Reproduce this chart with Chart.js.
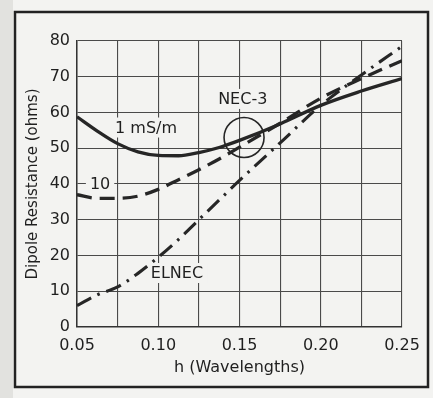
<!DOCTYPE html>
<html>
<head>
<meta charset="utf-8">
<script src="https://cdn.jsdelivr.net/npm/chart.js@4.4.1/dist/chart.umd.min.js"></script>
<style>
  html, body { margin: 0; padding: 0; background: #f3f3f1; }
  #wrap { width: 433px; height: 398px; }
</style>
</head>
<body>
<div id="wrap"><canvas id="c" width="433" height="398"></canvas></div>
<script>
// h in wavelengths, resistance in ohms
const H = [0.05, 0.0625, 0.075, 0.0875, 0.10, 0.1125, 0.125, 0.1375, 0.15, 0.175, 0.20, 0.225, 0.25];
const NEC_1MS = [58.8, 54.8, 51.3, 49.0, 48.0, 47.9, 48.8, 50.2, 52.2, 56.8, 62.0, 66.0, 69.5];
const NEC_10 = [37.0, 36.0, 36.0, 36.6, 38.5, 41.2, 44.0, 47.0, 50.3, 57.0, 64.0, 69.5, 74.5];
const ELNEC = [6.0, 9.0, 11.2, 15.0, 19.5, 24.5, 30.0, 35.5, 41.0, 51.5, 62.0, 70.5, 78.5];

// the circled NEC-3 point
const NEC3_MARK = [{ x: 0.1528, y: 53 }];

const X_MIN = 0.05, X_MAX = 0.25, X_STEP = 0.025;
const Y_MIN = 0, Y_MAX = 80, Y_STEP = 10;

const NOTES = [
  { text: '1 mS/m', x: 0.0925, y: 55.8 },
  { text: '10', x: 0.0642, y: 40 },
  { text: 'NEC-3', x: 0.152, y: 63.8 },
  { text: 'ELNEC', x: 0.1115, y: 15.1 },
];

const INK = '#262626';
const TEXT = '#1f1f1f';
const PAPER = '#f3f3f1';
const FONT = '"DejaVu Sans", sans-serif';

const pts = (ys) => H.map((h, i) => ({ x: h, y: ys[i] }));

const paper = {
  id: 'paper',
  beforeDraw(chart) {
    const { ctx, width, height } = chart;
    ctx.save();
    ctx.fillStyle = PAPER;
    ctx.fillRect(0, 0, width, height);
    ctx.fillStyle = '#e2e2df';
    ctx.fillRect(0, 0, 13, height);
    ctx.strokeStyle = '#222';
    ctx.lineWidth = 2.5;
    ctx.strokeRect(15, 12, 413, 375);
    ctx.restore();
  },
};

// curve labels sit on paper-coloured boxes that break the grid lines
const notes = {
  id: 'notes',
  beforeDatasetsDraw(chart) {
    const { ctx, scales: { x, y } } = chart;
    ctx.save();
    ctx.font = '16px ' + FONT;
    ctx.textAlign = 'center';
    ctx.textBaseline = 'middle';
    NOTES.forEach((n) => {
      const px = x.getPixelForValue(n.x);
      const py = y.getPixelForValue(n.y);
      const w = ctx.measureText(n.text).width;
      ctx.fillStyle = PAPER;
      ctx.fillRect(px - w / 2 - 4, py - 10, w + 8, 20);
      ctx.fillStyle = TEXT;
      ctx.fillText(n.text, px, py + 1);
    });
    ctx.restore();
  },
};

new Chart(document.getElementById('c'), {
  type: 'scatter',
  data: {
    datasets: [
      {
        label: '1 mS/m',
        data: pts(NEC_1MS),
        showLine: true,
        borderColor: INK,
        borderWidth: 3.3,
        pointRadius: 0,
        cubicInterpolationMode: 'monotone',
      },
      {
        label: '10',
        data: pts(NEC_10),
        showLine: true,
        borderColor: INK,
        borderWidth: 3.3,
        borderDash: [15, 8],
        pointRadius: 0,
        cubicInterpolationMode: 'monotone',
      },
      {
        label: 'ELNEC',
        data: pts(ELNEC),
        showLine: true,
        borderColor: INK,
        borderWidth: 3.1,
        borderDash: [16, 7, 2.5, 7],
        pointRadius: 0,
        cubicInterpolationMode: 'monotone',
      },
      {
        label: 'NEC-3',
        data: NEC3_MARK,
        showLine: false,
        pointStyle: 'circle',
        pointRadius: 20,
        pointBorderWidth: 1.6,
        pointBorderColor: INK,
        pointBackgroundColor: 'rgba(0,0,0,0)',
      },
    ],
  },
  options: {
    responsive: false,
    animation: false,
    devicePixelRatio: 1,
    layout: { padding: { top: 41, right: 31, left: 0, bottom: 0 } },
    plugins: {
      legend: { display: false },
      tooltip: { enabled: false },
    },
    scales: {
      x: {
        type: 'linear',
        min: X_MIN,
        max: X_MAX,
        afterFit: (s) => { s.height = 71; },
        ticks: {
          stepSize: X_STEP,
          autoSkip: false,
          maxRotation: 0,
          padding: 9,
          color: TEXT,
          font: { family: FONT, size: 16 },
          callback: (v) => (Math.round(v * 1000) % 50 === 0 ? v.toFixed(2) : ''),
        },
        grid: { color: '#4a4a4a', lineWidth: 1.1, drawTicks: false },
        border: { color: '#333', width: 1.5 },
        title: {
          display: true,
          text: 'h (Wavelengths)',
          color: TEXT,
          font: { family: FONT, size: 16 },
          padding: { top: 0, bottom: 21 },
        },
      },
      y: {
        min: Y_MIN,
        max: Y_MAX,
        afterFit: (s) => { s.width = 77; },
        ticks: {
          stepSize: Y_STEP,
          padding: 7,
          color: TEXT,
          font: { family: FONT, size: 16 },
        },
        grid: { color: '#4a4a4a', lineWidth: 1.1, drawTicks: false },
        border: { color: '#333', width: 1.5 },
        title: {
          display: true,
          text: 'Dipole Resistance (ohms)',
          color: TEXT,
          font: { family: FONT, size: 15 },
          padding: { top: 24, bottom: 0 },
        },
      },
    },
  },
  plugins: [paper, notes],
});
</script>
</body>
</html>
